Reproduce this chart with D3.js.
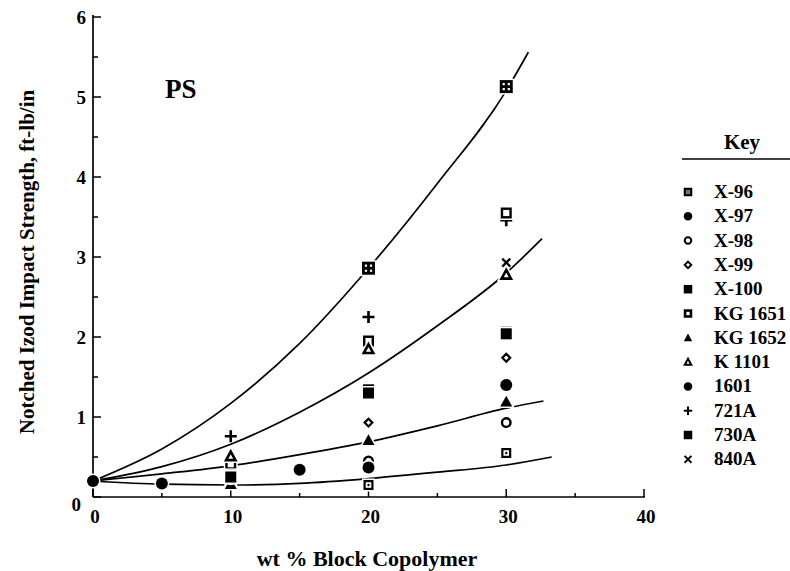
<!DOCTYPE html>
<html><head><meta charset="utf-8">
<script src="https://cdn.jsdelivr.net/npm/d3@7"></script>
<style>
body{margin:0;background:#fff}
svg{display:block}
text{font-family:"Liberation Serif","Times New Roman",serif;font-weight:bold;fill:#000}
</style>
</head><body>
<svg id="c" width="790" height="571"></svg>
<script>
// ---------- data ----------
const xTicks = [0, 10, 20, 30, 40];
const xMinorTicks = [5, 15, 25, 35];
const yTicks = [0, 1, 2, 3, 4, 5, 6];
const yMinorTicks = [0.5, 1.5, 2.5, 3.5, 4.5, 5.5];

const seriesNames   = ["X-96", "X-97", "X-98", "X-99", "X-100", "KG 1651", "KG 1652", "K 1101", "1601", "721A", "730A", "840A"];
const seriesSymbols = ["sqdot", "circleFilled", "circleOpen", "diamondOpen", "squareFilled", "squareOpen", "triFilled", "triOpen", "circleFilled", "plus", "squareFilled", "cross"];

const dataX96    = [[10, 0.21], [20, 0.15], [30, 0.55]];
const dataX97    = [[10, 0.24], [20, 0.37], [30, 1.40]];
const dataX98    = [[10, 0.22], [20, 0.45], [30, 0.93]];
const dataX99    = [[10, 0.26], [20, 0.93], [30, 1.74]];
const dataX100   = [[10, 0.27], [20, 1.34], [30, 2.06]];
const dataKG1651 = [[10, 0.41], [20, 1.95], [30, 3.55]];
const dataKG1652 = [[10, 0.16], [20, 0.71], [30, 1.19]];
const dataK1101  = [[10, 0.51], [20, 1.85], [30, 2.78]];
const data1601   = [[0, 0.20], [5, 0.17], [15, 0.34]];
const data721A   = [[10, 0.76], [20, 2.25], [30, 3.46]];
const data730A   = [[10, 0.25], [20, 1.30], [30, 2.04]];
const data840A   = [[10, 0.30], [20, 1.30], [30, 2.93]];
const dataGrid   = [[20, 2.86], [30, 5.13]];   // boxed-cross marker (not in key)

const seriesData = [dataX96, dataX97, dataX98, dataX99, dataX100, dataKG1651, dataKG1652, dataK1101, data1601, data721A, data730A, data840A];

// fitted curves
const curveTop    = [[0, 0.20], [5, 0.60], [10, 1.17], [15, 1.92], [20, 2.86], [25, 3.92], [30, 5.08], [31.6, 5.56]];
const curveSecond = [[0, 0.20], [5, 0.38], [10, 0.66], [15, 1.06], [20, 1.55], [25, 2.14], [30, 2.80], [32.6, 3.23]];
const curveThird  = [[0, 0.20], [5, 0.29], [10, 0.39], [15, 0.53], [20, 0.69], [25, 0.89], [30, 1.11], [32.7, 1.20]];
const curveBottom = [[0, 0.20], [5, 0.16], [10, 0.15], [15, 0.17], [20, 0.23], [25, 0.31], [30, 0.40], [33.3, 0.50]];

// ---------- chart ----------
const svg = d3.select("#c");
const x = d3.scaleLinear().domain([0, 40]).range([93, 644]);
const y = d3.scaleLinear().domain([0, 6]).range([497, 17]);

svg.append("line").attr("x1", x(0)).attr("x2", x(0)).attr("y1", y(6) - 2).attr("y2", y(0))
  .attr("stroke", "#000").attr("stroke-width", 1.7);
svg.append("line").attr("x1", x(0)).attr("x2", x(40) + 1).attr("y1", y(0)).attr("y2", y(0))
  .attr("stroke", "#000").attr("stroke-width", 1.7);

const gx = svg.append("g");
xTicks.forEach(t => gx.append("line").attr("x1", x(t)).attr("x2", x(t)).attr("y1", y(0)).attr("y2", y(0) - 8).attr("stroke", "#000").attr("stroke-width", 1.5));
xMinorTicks.forEach(t => gx.append("line").attr("x1", x(t)).attr("x2", x(t)).attr("y1", y(0)).attr("y2", y(0) - 4).attr("stroke", "#000").attr("stroke-width", 1.5));
xTicks.forEach(t => gx.append("text").attr("x", x(t) + 2).attr("y", 523).attr("text-anchor", "middle").attr("font-size", 19).text(t));

const gy = svg.append("g");
yTicks.forEach(t => gy.append("line").attr("x1", x(0)).attr("x2", x(0) + 8).attr("y1", y(t)).attr("y2", y(t)).attr("stroke", "#000").attr("stroke-width", 1.5));
yMinorTicks.forEach(t => gy.append("line").attr("x1", x(0)).attr("x2", x(0) + 5).attr("y1", y(t)).attr("y2", y(t)).attr("stroke", "#000").attr("stroke-width", 1.5));
yTicks.forEach(t => gy.append("text").attr("x", t === 0 ? 81 : 86).attr("y", y(t) + (t === 0 ? 14 : 7)).attr("text-anchor", "end").attr("font-size", 19).text(t));

svg.append("text").attr("transform", "translate(34,262) rotate(-90)").attr("text-anchor", "middle").attr("font-size", 21)
  .text("Notched Izod Impact Strength, ft-lb/in");
svg.append("text").attr("x", 367).attr("y", 566).attr("text-anchor", "middle").attr("font-size", 22).text("wt % Block Copolymer");
svg.append("text").attr("x", 165).attr("y", 98).attr("font-size", 27).text("PS");

const line = d3.line().x(d => x(d[0])).y(d => y(d[1])).curve(d3.curveMonotoneX);
[curveTop, curveSecond, curveThird, curveBottom].forEach(c => {
  svg.append("path").attr("d", line(c)).attr("fill", "none").attr("stroke", "#000").attr("stroke-width", 1.7);
});

function drawMarker(g, type, cx, cy, s, halo, swOverride) {
  const h = s / 2;
  const sw = swOverride || Math.max(1.6, s * 0.22);
  const grp = g.append("g").attr("transform", `translate(${cx},${cy})`);
  const layers = halo ? ["halo", "main"] : ["main"];
  layers.forEach(layer => {
    const isHalo = layer === "halo";
    const stroke = isHalo ? "#fff" : "#000";
    const extra = isHalo ? 3 : 0;
    switch (type) {
      case "sqdot": {
        const d = h - sw / 2;
        grp.append("rect").attr("x", -d).attr("y", -d).attr("width", 2 * d).attr("height", 2 * d)
          .attr("fill", "#fff").attr("stroke", stroke).attr("stroke-width", sw + extra);
        if (!isHalo) grp.append("circle").attr("r", Math.max(1, s * 0.12)).attr("fill", "#000");
        break; }
      case "circleFilled":
        grp.append("circle").attr("r", h).attr("fill", isHalo ? "#fff" : "#000").attr("stroke", stroke).attr("stroke-width", isHalo ? extra : 0);
        break;
      case "circleOpen":
        grp.append("circle").attr("r", h - sw / 2).attr("fill", "#fff").attr("stroke", stroke).attr("stroke-width", sw + extra);
        break;
      case "diamondOpen": {
        const d = h - sw / 2;
        grp.append("path").attr("d", `M0,${-d}L${d},0L0,${d}L${-d},0Z`).attr("fill", "#fff").attr("stroke", stroke).attr("stroke-width", sw + extra);
        break; }
      case "squareFilled":
        grp.append("rect").attr("x", -h).attr("y", -h).attr("width", s).attr("height", s)
          .attr("fill", isHalo ? "#fff" : "#000").attr("stroke", stroke).attr("stroke-width", isHalo ? extra : 0);
        break;
      case "squareOpen": {
        const d = h - sw / 2;
        grp.append("rect").attr("x", -d).attr("y", -d).attr("width", 2 * d).attr("height", 2 * d)
          .attr("fill", "#fff").attr("stroke", stroke).attr("stroke-width", sw + extra);
        break; }
      case "triFilled":
        grp.append("path").attr("d", `M0,${-h}L${h},${h * 0.8}L${-h},${h * 0.8}Z`)
          .attr("fill", isHalo ? "#fff" : "#000").attr("stroke", stroke).attr("stroke-width", isHalo ? extra : 0);
        break;
      case "triOpen": {
        const d = h - sw / 2;
        grp.append("path").attr("d", `M0,${-d}L${d},${d * 0.85}L${-d},${d * 0.85}Z`)
          .attr("fill", "#fff").attr("stroke", stroke).attr("stroke-width", sw + extra).attr("stroke-linejoin", "miter");
        break; }
      case "plus":
        grp.append("path").attr("d", `M${-h},0H${h}M0,${-h}V${h}`).attr("stroke", stroke).attr("stroke-width", sw + extra).attr("fill", "none");
        break;
      case "cross": {
        const d = h * 0.8;
        grp.append("path").attr("d", `M${-d},${-d}L${d},${d}M${d},${-d}L${-d},${d}`).attr("stroke", stroke).attr("stroke-width", sw + extra).attr("fill", "none");
        break; }
      case "grid": {
        const d = h - sw / 2;
        grp.append("rect").attr("x", -d).attr("y", -d).attr("width", 2 * d).attr("height", 2 * d)
          .attr("fill", "#fff").attr("stroke", stroke).attr("stroke-width", sw + extra);
        if (!isHalo) grp.append("path").attr("d", `M${-d},0H${d}M0,${-d}V${d}`).attr("stroke", "#000").attr("stroke-width", sw);
        break; }
    }
  });
}

const sizes = {sqdot: 10, circleFilled: 12, circleOpen: 11, diamondOpen: 10, squareFilled: 11, squareOpen: 11, triFilled: 12, triOpen: 12, plus: 12, cross: 10, grid: 13};
const gm = svg.append("g");
// drawing order: crosses first, open markers, then filled markers on top
const order = [9, 11, 0, 2, 3, 5, 7, 6, 1, 8, 4, 10];
order.forEach(i => {
  seriesData[i].forEach(p => drawMarker(gm, seriesSymbols[i], x(p[0]), y(p[1]), sizes[seriesSymbols[i]], true));
});
dataGrid.forEach(p => drawMarker(gm, "grid", x(p[0]), y(p[1]), sizes.grid, true));

// legend
const lg = svg.append("g");
lg.append("text").attr("x", 742).attr("y", 149).attr("text-anchor", "middle").attr("font-size", 21).text("Key");
lg.append("line").attr("x1", 682).attr("x2", 790).attr("y1", 159).attr("y2", 159).attr("stroke", "#000").attr("stroke-width", 1.7);
seriesNames.forEach((n, i) => {
  const yy = 192 + i * 24.3;
  const sym = seriesSymbols[i];
  const sw = (sym === "sqdot" || sym === "squareOpen") ? 2.6 : 2.0;
  drawMarker(lg, sym, 688, yy, 8.5, false, sw);
  lg.append("text").attr("x", 714).attr("y", yy + 6).attr("font-size", 19).text(n);
});
</script>
</body></html>
